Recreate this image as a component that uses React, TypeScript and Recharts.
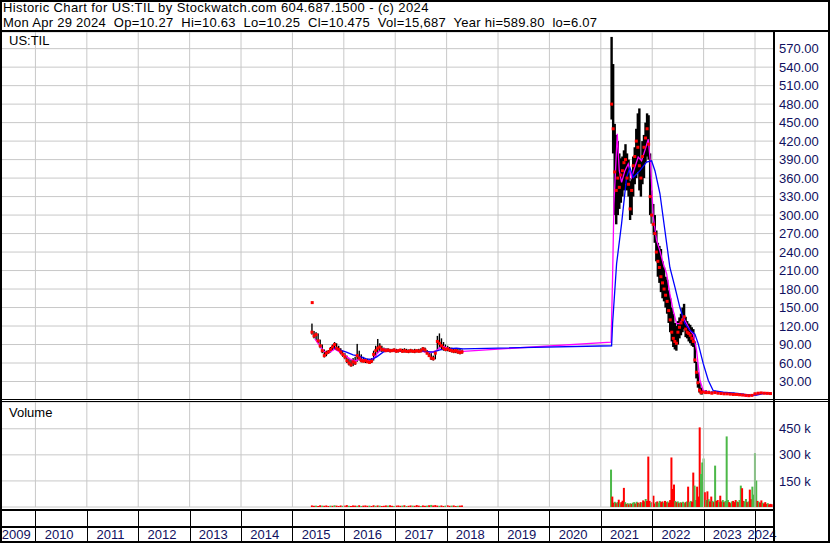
import React from "react";
import {
  Bar,
  CartesianGrid,
  Cell,
  ComposedChart,
  Line,
  ReferenceLine,
  Scatter,
  XAxis,
  YAxis,
} from "recharts";

const FONT = "'Liberation Sans', Arial, sans-serif";
const NAVY = "#101060";
const GRID = "#c8c8c8";
const RED = "#ff0000";
const GREEN = "#4cb848";

// time axis runs in fractional years, Apr 2009 .. Apr 2024
const xDomain: [number, number] = [2009.33, 2024.35];
const yearEdges = [2010, 2011, 2012, 2013, 2014, 2015, 2016, 2017, 2018, 2019, 2020, 2021, 2022, 2023, 2024];
const yearMids = [2009.665, 2010.5, 2011.5, 2012.5, 2013.5, 2014.5, 2015.5, 2016.5, 2017.5, 2018.5, 2019.5, 2020.5, 2021.5, 2022.5, 2023.5, 2024.175];

const priceTicks = [30, 60, 90, 120, 150, 180, 210, 240, 270, 300, 330, 360, 390, 420, 450, 480, 510, 540, 570];
const volumeTicks = [150000, 300000, 450000];

// 2015 - 2018 listing, sampled every 0.04 yr from 2015.38
const startA = 2015.38;
const stepA = 0.04;
const hiA = [124, 112, 110, 108, 98, 90, 82, 80, 81, 86, 90, 94, 92, 88, 84, 80, 76, 72, 68, 66, 68, 70, 91, 80, 74, 70, 68, 67, 66, 68, 80, 88, 99, 92, 88, 85, 84, 84, 83, 83, 84, 83, 82, 83, 83, 84, 83, 82, 83, 82, 83, 82, 83, 84, 86, 85, 81, 78, 76, 72, 80, 104, 108, 100, 94, 90, 88, 86, 85, 84, 83, 84, 83, 82];
const loA = [106, 100, 97, 92, 84, 76, 69, 71, 75, 77, 80, 82, 80, 78, 74, 70, 66, 60, 56, 54, 55, 57, 62, 64, 61, 61, 60, 60, 59, 60, 64, 70, 76, 78, 78, 78, 78, 78, 77, 78, 78, 77, 77, 78, 77, 77, 77, 76, 77, 77, 76, 77, 77, 77, 78, 77, 74, 70, 65, 64, 66, 80, 84, 82, 80, 79, 79, 78, 77, 76, 76, 75, 74, 75];
const clA = [110, 104, 106, 96, 88, 80, 72, 76, 78, 82, 86, 90, 84, 82, 78, 74, 70, 64, 60, 57, 62, 60, 72, 68, 64, 63, 64, 62, 61, 63, 74, 80, 84, 86, 82, 81, 80, 81, 80, 80, 81, 79, 80, 81, 79, 80, 79, 79, 80, 79, 79, 80, 79, 80, 83, 81, 76, 72, 68, 67, 76, 95, 92, 88, 84, 82, 83, 81, 80, 79, 80, 78, 77, 78];
const volA = [9, 7, 8, 6, 10, 8, 7, 9, 6, 8, 7, 10, 8, 6, 9, 7, 8, 11, 7, 6, 9, 8, 7, 10, 6, 8, 9, 7, 8, 6, 10, 7, 9, 8, 6, 7, 9, 8, 10, 7, 6, 8, 9, 7, 8, 10, 6, 7, 9, 8, 7, 11, 8, 6, 9, 7, 8, 10, 12, 9, 11, 8, 7, 9, 6, 8, 10, 7, 8, 9, 6, 7, 8, 9];
const dirA = "rrgrrgrrrgrgrrrgrrgrrrgrgrrrgrrgrgrrrgrrgrrrgrgrrgrrrgrrgrgrrrgrrgrrgrrg";

// 2021 - 2022 relisting, every 0.03 yr from 2021.21
const startB = 2021.21;
const stepB = 0.03;
const hiB = [589, 545, 448, 430, 420, 400, 392, 395, 405, 415, 400, 390, 355, 360, 395, 410, 440, 465, 473, 390, 420, 430, 450, 465, 462, 400, 340, 318, 300, 275, 255, 250, 245, 225, 215, 200, 195, 178, 165, 150, 140, 125, 120, 128, 134, 140, 150, 156, 135, 128, 124, 122, 118, 115, 95, 62, 45, 28, 20, 17];
const loB = [455, 400, 300, 285, 300, 310, 320, 330, 340, 350, 340, 330, 292, 300, 330, 350, 360, 370, 340, 330, 350, 360, 385, 395, 390, 300, 286, 268, 255, 225, 200, 190, 175, 165, 160, 150, 140, 125, 110, 95, 86, 82, 80, 90, 100, 105, 110, 115, 102, 100, 95, 92, 88, 86, 60, 35, 20, 12, 9, 9];
const clB = [480, 440, 370, 340, 360, 345, 365, 372, 385, 390, 360, 350, 310, 340, 380, 395, 420, 410, 380, 360, 395, 410, 425, 440, 415, 330, 300, 285, 270, 240, 225, 215, 200, 190, 180, 170, 160, 145, 130, 110, 100, 95, 92, 110, 118, 125, 130, 135, 115, 110, 108, 105, 100, 95, 65, 45, 28, 16, 12, 13];

// 2023 - 2024, every 0.06 yr from 2023.04
const startC = 2023.04;
const stepC = 0.06;
const hiC = [16, 15, 14, 15, 14, 13, 13, 13, 12, 12, 11, 10.5, 10, 9.5, 9, 9, 12, 13, 13, 13, 12, 10.63];
const loC = [10, 10, 10, 10, 10, 9, 9, 9, 8.5, 8, 8, 7.5, 7, 6.5, 6.07, 6.5, 7, 9, 10, 10, 10, 10.25];
const clC = [12, 12, 11, 12, 11, 10.5, 10, 10, 9.5, 9, 9, 8.5, 8, 7.5, 7, 7.5, 10, 11, 11.5, 11, 10.8, 10.475];

// stray print on the first day of the 2015 listing
const strayCloses = [{ t: 2015.385, c: 158 }];

// volume 2021 - 2024, every 0.025 yr from 2021.20 (thousands)
const startV = 2021.2;
const stepV = 0.025;
const volB = [215, 60, 25, 30, 22, 28, 42, 20, 28, 36, 110, 28, 18, 22, 15, 22, 18, 25, 28, 20, 30, 25, 20, 28, 25, 38, 32, 46, 35, 290, 35, 25, 28, 65, 20, 28, 32, 25, 35, 28, 32, 25, 35, 28, 32, 25, 40, 285, 104, 129, 35, 28, 32, 22, 28, 25, 30, 22, 28, 32, 117, 28, 35, 30, 198, 123, 40, 117, 60, 458, 190, 256, 279, 85, 40, 90, 45, 32, 60, 35, 28, 238, 35, 40, 28, 65, 32, 40, 28, 35, 406, 40, 28, 22, 32, 35, 28, 40, 32, 28, 40, 123, 108, 35, 32, 46, 28, 32, 100, 45, 117, 71, 310, 152, 35, 30, 25, 38, 25, 20, 28, 18, 22, 15, 18, 16];
const dirB = "grrgrgrgrrrgrgrgrggrgrgrgrrgrrrgrrrgrggrrgrrgrrrrrgrgrgrggrgrggrrggrrrgggrgrgrrgrgrrgrrgrgggrrgrrrgrggrrggrgrrggggrgrrgrrrgrrr";

// moving averages [year, value]
const maShort: [number, number][] = [
  [2015.437, 99], [2015.535, 88], [2015.6, 80], [2015.664, 76.5], [2015.729, 77.6], [2015.826, 83], [2015.924, 77.6],
  [2016.021, 72], [2016.118, 66.8], [2016.216, 63], [2016.313, 66.8], [2016.443, 63], [2016.572, 66.8], [2016.67, 77.6],
  [2016.767, 83], [2016.897, 81], [2017.156, 80], [2017.415, 80], [2017.675, 77], [2017.804, 80], [2017.902, 88],
  [2017.999, 84.6], [2018.129, 80], [2018.323, 79],
  [2021.2, 94], [2021.229, 199], [2021.255, 318], [2021.32, 432], [2021.359, 372], [2021.404, 353], [2021.469, 372],
  [2021.534, 383], [2021.598, 361], [2021.663, 378], [2021.728, 394], [2021.793, 388], [2021.858, 405], [2021.923, 423],
  [2021.968, 383], [2022.02, 297], [2022.085, 259], [2022.15, 242], [2022.215, 221], [2022.28, 205], [2022.344, 172],
  [2022.409, 145], [2022.474, 124], [2022.539, 124], [2022.604, 134], [2022.669, 124], [2022.733, 113], [2022.798, 107],
  [2022.863, 80], [2022.928, 32], [2022.993, 15], [2023.123, 12.7], [2023.382, 11], [2023.64, 10], [2023.836, 6.3],
  [2023.966, 7.4], [2024.095, 12], [2024.325, 11],
];
const maLong: [number, number][] = [
  [2015.79, 85], [2015.92, 81.4], [2016.05, 77.6], [2016.18, 73.3], [2016.31, 70.6], [2016.44, 66.8], [2016.54, 65.7],
  [2016.64, 70], [2016.77, 78], [2016.9, 80.3], [2017.16, 79.2], [2017.54, 79.2], [2017.74, 77.6], [2017.87, 81.4],
  [2018.0, 83], [2018.19, 84], [2018.32, 83],
  [2021.21, 88], [2021.229, 124], [2021.307, 221], [2021.404, 286], [2021.501, 361], [2021.566, 377], [2021.631, 361],
  [2021.761, 372], [2021.89, 386], [2021.988, 388], [2022.053, 372], [2022.15, 335], [2022.247, 275], [2022.344, 215],
  [2022.442, 183], [2022.539, 150], [2022.636, 124], [2022.733, 113], [2022.831, 107], [2022.896, 91], [2022.993, 59],
  [2023.09, 32], [2023.187, 15], [2023.382, 12.7], [2023.706, 10.5], [2023.9, 7.8], [2024.03, 7.8], [2024.16, 10.5],
  [2024.325, 10.5],
];

function bars(start: number, step: number, hi: number[], lo: number[], cl: number[]) {
  return hi.map((h, i) => ({ t: start + i * step, range: [lo[i], h], c: cl[i] }));
}

const priceRows = [
  ...bars(startA, stepA, hiA, loA, clA),
  ...bars(startB, stepB, hiB, loB, clB),
  ...bars(startC, stepC, hiC, loC, clC),
];
const closeMarks = [...strayCloses, ...priceRows.map((r) => ({ t: r.t, c: r.c }))];
const shortRows = maShort.map(([t, v]) => ({ t, v }));
const longRows = maLong.map(([t, v]) => ({ t, v }));

const volumeRows = [
  ...volA.map((v, i) => ({ t: startA + i * stepA, v: v * 1000, up: dirA[i] === "g" })),
  ...volB.map((v, i) => ({ t: startV + i * stepV, v: v * 1000, up: dirB[i] === "g" })),
];
const axisTicks = [...yearEdges, ...yearMids].sort((a, b) => a - b);

const tickStyle = { fill: NAVY, fontSize: 13, fontFamily: FONT };

// high-low stick, fixed width, centred on the slot recharts gives us;
// the dense 2021+ trading gets a slightly fatter stick
function HiLo(props: any) {
  const { x, y, width, height, payload } = props;
  if (x == null || !isFinite(y) || !isFinite(height)) return null;
  const cx = x + (width || 0) / 2;
  const w = payload && payload.t > 2020 ? 2.4 : 1.4;
  return <rect x={cx - w / 2} y={y} width={w} height={Math.max(Math.abs(height), 1)} fill="#000" />;
}

function VolStick(props: any) {
  const { x, y, width, height, fill } = props;
  if (x == null || !isFinite(y) || !height) return null;
  const cx = x + (width || 0) / 2;
  return <rect x={cx - 1} y={y} width={2} height={height} fill={fill} />;
}

function CloseMark(props: any) {
  const { cx, cy } = props;
  if (cx == null || cy == null) return null;
  return <rect x={cx - 1.5} y={cy - 1.5} width={3} height={3} fill={RED} />;
}

function YearTick(props: any) {
  const { x, y, payload } = props;
  const v = payload.value as number;
  if (Number.isInteger(v)) {
    const px = Math.round(x) + 0.5;
    return <line x1={px} x2={px} y1={y + 3} y2={y + 36} stroke="#000" strokeWidth={1} />;
  }
  return (
    <text x={x - 2} y={y + 32} textAnchor="middle" fill={NAVY} fontSize={13} fontFamily={FONT}>
      {Math.floor(v)}
    </text>
  );
}

export default function App() {
  return (
    <div
      style={{
        position: "absolute",
        left: 0,
        top: 0,
        width: 830,
        height: 543,
        background: "#fff",
        fontFamily: FONT,
        overflow: "hidden",
      }}
    >
      <div style={{ position: "absolute", left: 0, top: 0 }}>
        <ComposedChart width={830} height={400} data={priceRows} margin={{ top: 32, right: 0, bottom: 0, left: 1 }}>
          <CartesianGrid vertical={false} stroke={GRID} />
          {yearEdges.map((y) => (
            <ReferenceLine key={y} x={y} stroke={GRID} />
          ))}
          <XAxis type="number" dataKey="t" domain={xDomain} allowDataOverflow hide />
          <YAxis
            orientation="right"
            width={57}
            domain={[0, 597]}
            ticks={priceTicks}
            interval={0}
            tickFormatter={(v: number) => v.toFixed(2)}
            axisLine={false}
            tickLine={false}
            tickSize={4}
            tickMargin={2}
            tick={tickStyle}
          />
          <Bar dataKey="range" barSize={2} fill="#000" shape={HiLo} isAnimationActive={false} />
          <Scatter data={closeMarks} dataKey="c" shape={CloseMark} isAnimationActive={false} />
          <Line data={shortRows} dataKey="v" stroke="#ff00ff" strokeWidth={1.3} dot={false} isAnimationActive={false} />
          <Line data={longRows} dataKey="v" stroke="#0000ff" strokeWidth={1.3} dot={false} isAnimationActive={false} />
        </ComposedChart>
      </div>

      <div style={{ position: "absolute", left: 0, top: 400 }}>
        <ComposedChart width={830} height={143} data={volumeRows} margin={{ top: 2, right: 0, bottom: 0, left: 1 }}>
          <CartesianGrid vertical={false} stroke={GRID} />
          {yearEdges.map((y) => (
            <ReferenceLine key={y} x={y} stroke={GRID} />
          ))}
          <XAxis
            type="number"
            dataKey="t"
            domain={xDomain}
            allowDataOverflow
            ticks={axisTicks}
            interval={0}
            height={36}
            axisLine={false}
            tickLine={false}
            tickSize={0}
            tickMargin={0}
            tick={(p: any) => <YearTick {...p} />}
          />
          <YAxis
            orientation="right"
            width={57}
            domain={[0, 604000]}
            ticks={volumeTicks}
            interval={0}
            tickFormatter={(v: number) => `${v / 1000} k`}
            axisLine={false}
            tickLine={false}
            tickSize={4}
            tickMargin={2}
            tick={tickStyle}
          />
          <Bar dataKey="v" barSize={2} shape={VolStick} isAnimationActive={false}>
            {volumeRows.map((r, i) => (
              <Cell key={i} fill={r.up ? GREEN : RED} />
            ))}
          </Bar>
        </ComposedChart>
      </div>

      <div style={{ position: "absolute", left: 3, top: 0, fontSize: 13, lineHeight: "15px", whiteSpace: "pre", color: "#000", letterSpacing: 0.4 }}>
        {"Historic Chart for US:TIL by Stockwatch.com 604.687.1500 - (c) 2024"}
      </div>
      <div style={{ position: "absolute", left: 3, top: 15, fontSize: 13, lineHeight: "15px", whiteSpace: "pre", color: "#000", letterSpacing: 0.27 }}>
        {"Mon Apr 29 2024  Op=10.27  Hi=10.63  Lo=10.25  Cl=10.475  Vol=15,687  Year hi=589.80  lo=6.07"}
      </div>
      <div style={{ position: "absolute", left: 9, top: 33, fontSize: 13, lineHeight: "15px", color: "#000" }}>US:TIL</div>
      <div style={{ position: "absolute", left: 9, top: 405, fontSize: 13, lineHeight: "15px", color: "#000" }}>Volume</div>

      <svg width={830} height={543} style={{ position: "absolute", left: 0, top: 0, pointerEvents: "none" }}>
        <g stroke="#000" fill="none">
          <line x1={0} x2={830} y1={1} y2={1} strokeWidth={2} />
          <line x1={1} x2={1} y1={0} y2={543} strokeWidth={2} />
          <line x1={829} x2={829} y1={0} y2={543} strokeWidth={2} />
          <line x1={0} x2={830} y1={542} y2={542} strokeWidth={2} />
          <line x1={0} x2={830} y1={31} y2={31} strokeWidth={2} />
          <line x1={774} x2={774} y1={31} y2={543} strokeWidth={2} />
          <line x1={0} x2={830} y1={399.5} y2={399.5} strokeWidth={1} />
          <line x1={0} x2={830} y1={401.5} y2={401.5} strokeWidth={1} />
          <line x1={0} x2={774} y1={510} y2={510} strokeWidth={2} />
          <line x1={0} x2={774} y1={527} y2={527} strokeWidth={2} />
        </g>
      </svg>
    </div>
  );
}
